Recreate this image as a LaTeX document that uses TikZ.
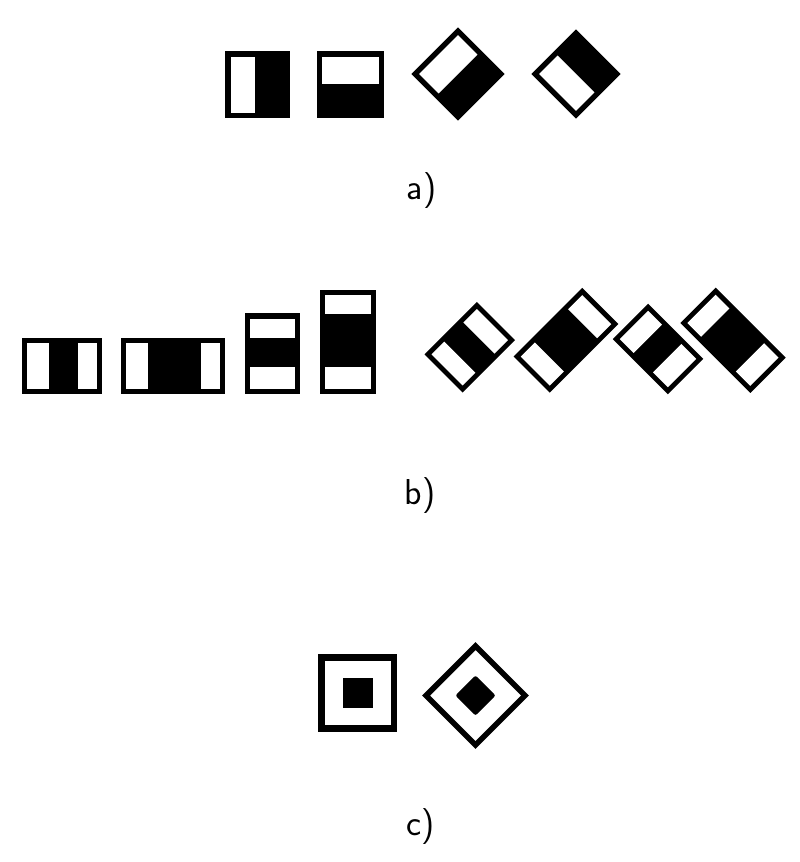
\documentclass[tikz,border=0pt]{standalone}
\usepackage{fontspec}
\usepackage{tikz}
\tikzset{dark/.style={fill=black}, light/.style={fill=white},
  caption/.style={inner sep=0pt, font=\sffamily\fontsize{36}{40}\selectfont}}

\begin{document}
\begin{tikzpicture}[x=1pt, y=-1pt]
\useasboundingbox (0,0) rectangle (800,862);

% a) edge features
\begin{scope}[shift={(257.5,84.5)}]
\fill[dark] (-32.5,-33.5) rectangle (32.5,33.5);
\fill[light] (-27,-28) rectangle (-2.5,28);
\end{scope}
\begin{scope}[shift={(350.3,84.5)}]
\fill[dark] (-33.7,-33.5) rectangle (33.7,33.5);
\fill[light] (-28.2,-28) rectangle (28.2,-1);
\end{scope}
\begin{scope}[shift={(458,74)}, rotate=45]
\fill[dark] (-33,-33) rectangle (33,33);
\fill[light] (-27.5,-27.5) rectangle (27.5,0);
\end{scope}
\begin{scope}[shift={(576,74)}, rotate=45]
\fill[dark] (-31.5,-31.5) rectangle (31.5,31.5);
\fill[light] (-26,-26) rectangle (0,26);
\end{scope}
\node[caption] (lbl-a) at (421.5,191) {a)};

% b) line features
\begin{scope}[shift={(62,366)}]
\fill[dark] (-40,-28) rectangle (40,28);
\fill[light] (-35,-23) rectangle (-13.5,23);
\fill[light] (15.5,-23) rectangle (35,23);
\end{scope}
\begin{scope}[shift={(173,366)}]
\fill[dark] (-52,-28) rectangle (52,28);
\fill[light] (-47,-23) rectangle (-25.3,23);
\fill[light] (27.7,-23) rectangle (47,23);
\end{scope}
\begin{scope}[shift={(272.5,353.8)}]
\fill[dark] (-27.5,-40.5) rectangle (27.5,40.5);
\fill[light] (-22.3,-35) rectangle (22.3,-16);
\fill[light] (-22.3,13.5) rectangle (22.3,35.3);
\end{scope}
\begin{scope}[shift={(347.8,342.2)}]
\fill[dark] (-27.8,-52.2) rectangle (27.8,52.2);
\fill[light] (-22.8,-47.2) rectangle (22.8,-27.9);
\fill[light] (-22.8,25.1) rectangle (22.8,47.1);
\end{scope}
\begin{scope}[shift={(469.75,347.25)}, rotate=45]
\fill[dark] (-37,-27) rectangle (37,27);
\fill[light] (-32,-22) rectangle (-14,22);
\fill[light] (13,-22) rectangle (32,22);
\end{scope}
\begin{scope}[shift={(566,340.3)}, rotate=45]
\fill[dark] (-48.5,-25.5) rectangle (48.5,25.5);
\fill[light] (-43.5,-20.5) rectangle (-23.5,20.5);
\fill[light] (23.5,-20.5) rectangle (43.5,20.5);
\end{scope}
\begin{scope}[shift={(658,349)}, rotate=45]
\fill[dark] (-25,-39) rectangle (25,39);
\fill[light] (-20,-34) rectangle (20,-14.5);
\fill[light] (-20,13) rectangle (20,34);
\end{scope}
\begin{scope}[shift={(733,340.3)}, rotate=45]
\fill[dark] (-25,-49.5) rectangle (25,49.5);
\fill[light] (-20,-44.5) rectangle (20,-25);
\fill[light] (-20,24) rectangle (20,44.5);
\end{scope}
\node[caption] (lbl-b) at (420,496) {b)};

% c) center-surround features
\begin{scope}[shift={(357.8,693)}]
\fill[dark] (-39.5,-38.7) rectangle (39.5,38.7);
\fill[light] (-33,-32.2) rectangle (33,32.2);
\fill[dark] (-14.7,-14.7) rectangle (14.7,14.7);
\end{scope}
\begin{scope}[shift={(475.5,695.5)}, rotate=45]
\fill[dark] (-37.7,-37.7) rectangle (37.7,37.7);
\fill[light] (-32,-32) rectangle (32,32);
\fill[dark, rounded corners=2pt] (-14.2,-14.2) rectangle (14.2,14.2);
\end{scope}
\node[caption] (lbl-c) at (421,827) {c)};
\end{tikzpicture}
\end{document}
